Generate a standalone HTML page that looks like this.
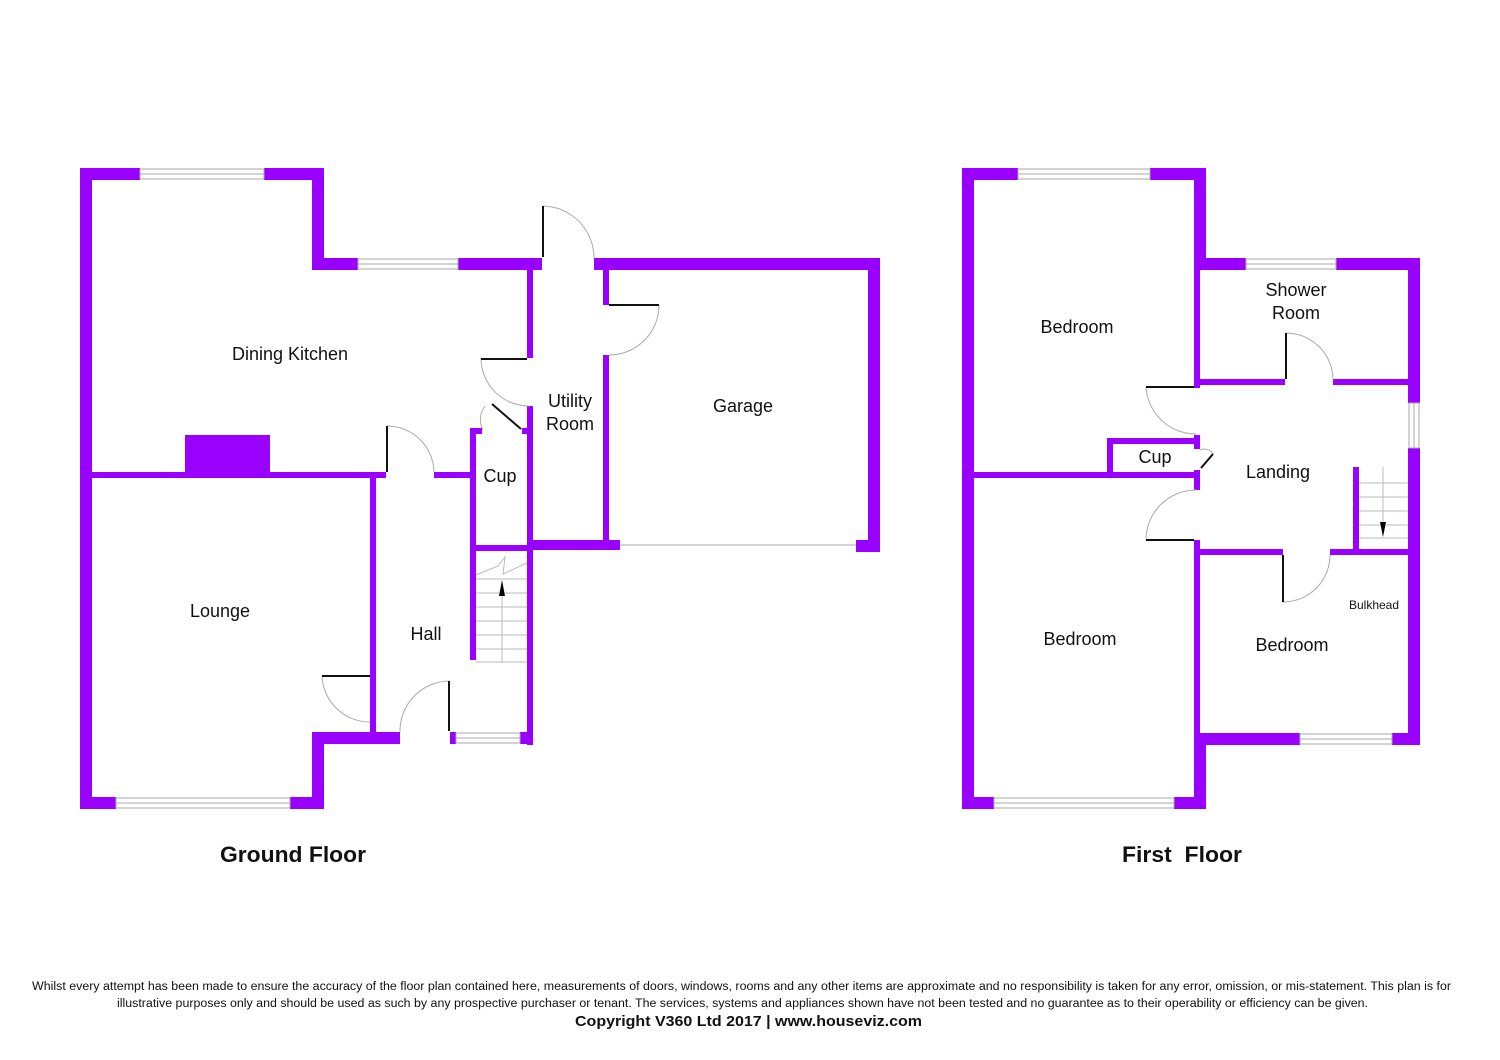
<!DOCTYPE html>
<html><head><meta charset="utf-8"><style>
html,body{margin:0;padding:0;background:#fff}
svg{display:block}
text{font-family:"Liberation Sans",sans-serif;fill:#111}
</style></head><body>
<svg width="1500" height="1060" viewBox="0 0 1500 1060" xmlns="http://www.w3.org/2000/svg">
<g fill="#9900ff">
<rect x="80" y="168" width="12" height="641"/>
<rect x="80" y="168" width="60" height="12"/>
<rect x="264" y="168" width="60" height="12"/>
<rect x="312" y="168" width="12" height="102"/>
<rect x="312" y="258" width="46" height="12"/>
<rect x="458" y="258" width="84" height="12"/>
<rect x="594" y="258" width="286" height="12"/>
<rect x="868" y="258" width="12" height="294"/>
<rect x="856" y="540" width="24" height="12"/>
<rect x="528" y="540" width="92" height="10"/>
<rect x="527" y="270" width="6" height="88"/>
<rect x="527" y="406" width="6" height="146"/>
<rect x="522" y="428" width="11" height="6"/>
<rect x="603" y="270" width="6" height="35"/>
<rect x="603" y="355" width="6" height="185"/>
<rect x="470" y="428" width="6" height="232"/>
<rect x="470" y="428" width="12" height="6"/>
<rect x="470" y="545" width="63" height="6"/>
<rect x="527" y="545" width="6" height="200"/>
<rect x="92" y="472" width="294" height="6"/>
<rect x="434" y="472" width="38" height="6"/>
<rect x="185" y="435" width="85" height="37"/>
<rect x="370" y="478" width="6" height="254"/>
<rect x="312" y="732" width="88" height="12"/>
<rect x="450" y="732" width="6" height="12"/>
<rect x="520" y="732" width="13" height="12"/>
<rect x="312" y="732" width="12" height="77"/>
<rect x="80" y="797" width="36" height="12"/>
<rect x="290" y="797" width="34" height="12"/>
<rect x="962" y="168" width="12" height="641"/>
<rect x="962" y="168" width="56" height="12"/>
<rect x="1150" y="168" width="56" height="12"/>
<rect x="1194" y="168" width="12" height="102"/>
<rect x="1194" y="258" width="52" height="12"/>
<rect x="1336" y="258" width="84" height="12"/>
<rect x="1408" y="258" width="12" height="145"/>
<rect x="1408" y="448" width="12" height="297"/>
<rect x="1194" y="270" width="6" height="118"/>
<rect x="1197" y="379" width="88" height="6"/>
<rect x="1333" y="379" width="75" height="6"/>
<rect x="974" y="472" width="223" height="6"/>
<rect x="1107" y="438" width="6" height="40"/>
<rect x="1107" y="438" width="90" height="6"/>
<rect x="1194" y="435" width="6" height="14"/>
<rect x="1194" y="470" width="6" height="20"/>
<rect x="1194" y="540" width="6" height="197"/>
<rect x="1200" y="549" width="83" height="6"/>
<rect x="1330" y="549" width="78" height="6"/>
<rect x="1353" y="467" width="6" height="82"/>
<rect x="1194" y="733" width="106" height="12"/>
<rect x="1392" y="733" width="28" height="12"/>
<rect x="1194" y="733" width="12" height="76"/>
<rect x="962" y="797" width="32" height="12"/>
<rect x="1174" y="797" width="32" height="12"/>
</g>
<g fill="none" stroke="#aaa" stroke-width="1">
<rect x="140" y="169" width="124" height="10"/><line x1="140" y1="174" x2="264" y2="174"/>
<rect x="358" y="259" width="100" height="10"/><line x1="358" y1="264" x2="458" y2="264"/>
<rect x="456" y="733" width="64" height="10"/><line x1="456" y1="738" x2="520" y2="738"/>
<rect x="116" y="798" width="174" height="10"/><line x1="116" y1="803" x2="290" y2="803"/>
<line x1="620" y1="545" x2="856" y2="545"/>
<rect x="1018" y="169" width="132" height="10"/><line x1="1018" y1="174" x2="1150" y2="174"/>
<rect x="1246" y="259" width="90" height="10"/><line x1="1246" y1="264" x2="1336" y2="264"/>
<rect x="1409" y="403" width="10" height="45"/><line x1="1414" y1="403" x2="1414" y2="448"/>
<rect x="1300" y="734" width="92" height="10"/><line x1="1300" y1="739" x2="1392" y2="739"/>
<rect x="994" y="798" width="180" height="10"/><line x1="994" y1="803" x2="1174" y2="803"/>
<path d="M543 206 A52 52 0 0 1 594 258"/>
<path d="M659 305 A50 50 0 0 1 609 355"/>
<path d="M481 358 A48 48 0 0 0 529 406"/>
<path d="M485 406 A22 22 0 0 0 483 430"/>
<path d="M387 426 A47 47 0 0 1 434 472"/>
<path d="M322 676 A48 48 0 0 0 370 722"/>
<path d="M400 732 A50 50 0 0 1 449 681"/>
<path d="M1286 333 A47 47 0 0 1 1333 380"/>
<path d="M1146 387 A50 50 0 0 0 1196 434"/>
<path d="M1200 450 A10 10 0 0 1 1213 454"/>
<path d="M1146 540 A50 50 0 0 1 1196 490"/>
<path d="M1283 602 A47 47 0 0 0 1330 555"/>
<g stroke="#bbb">
<line x1="476" y1="579" x2="527" y2="579"/><line x1="476" y1="593" x2="527" y2="593"/><line x1="476" y1="607" x2="527" y2="607"/><line x1="476" y1="621" x2="527" y2="621"/><line x1="476" y1="635" x2="527" y2="635"/><line x1="476" y1="649" x2="527" y2="649"/><line x1="476" y1="662" x2="527" y2="662"/>
<line x1="502" y1="662" x2="502" y2="590"/>
<polyline points="476,575 498,566 505,557 503,574 527,563"/>
<line x1="1359" y1="483" x2="1408" y2="483"/><line x1="1359" y1="497" x2="1408" y2="497"/><line x1="1359" y1="511" x2="1408" y2="511"/><line x1="1359" y1="525" x2="1408" y2="525"/><line x1="1359" y1="538" x2="1408" y2="538"/>
<line x1="1383" y1="467" x2="1383" y2="530"/>
</g>
</g>
<polygon points="502,580 499,596 505,596" fill="#000"/>
<polygon points="1383,537 1380,522 1386,522" fill="#000"/>
<g stroke="#111" stroke-width="2" fill="none">
<line x1="543" y1="206" x2="543" y2="257"/>
<line x1="609" y1="305" x2="659" y2="305"/>
<line x1="481" y1="359" x2="527" y2="359"/>
<line x1="492" y1="404" x2="521" y2="429"/>
<line x1="387" y1="426" x2="387" y2="472"/>
<line x1="322" y1="676" x2="370" y2="676"/>
<line x1="449" y1="681" x2="449" y2="731"/>
<line x1="1286" y1="333" x2="1286" y2="379"/>
<line x1="1146" y1="387" x2="1194" y2="387"/>
<line x1="1201" y1="468" x2="1213" y2="454"/>
<line x1="1146" y1="540" x2="1194" y2="540"/>
<line x1="1283" y1="555" x2="1283" y2="602"/>
</g>
<g font-size="18" text-anchor="middle">
<text x="290" y="360">Dining Kitchen</text>
<text x="570" y="407">Utility</text><text x="570" y="430">Room</text>
<text x="743" y="412">Garage</text>
<text x="500" y="482">Cup</text>
<text x="220" y="617">Lounge</text>
<text x="426" y="640">Hall</text>
<text x="1077" y="333">Bedroom</text>
<text x="1296" y="296">Shower</text><text x="1296" y="319">Room</text>
<text x="1155" y="463">Cup</text>
<text x="1278" y="478">Landing</text>
<text x="1080" y="645">Bedroom</text>
<text x="1292" y="651">Bedroom</text>
</g>
<text x="1374" y="609" font-size="12" text-anchor="middle">Bulkhead</text>
<g font-size="22" font-weight="bold">
<text x="220" y="862" textLength="146" lengthAdjust="spacingAndGlyphs">Ground Floor</text>
<text x="1122" y="862" textLength="120" lengthAdjust="spacingAndGlyphs" xml:space="preserve">First  Floor</text>
</g>
<g font-size="11.5" fill="#333">
<text x="32" y="990" textLength="1419" lengthAdjust="spacingAndGlyphs">Whilst every attempt has been made to ensure the accuracy of the floor plan contained here, measurements of doors, windows, rooms and any other items are approximate and no responsibility is taken for any error, omission, or mis-statement. This plan is for</text>
<text x="117" y="1007" textLength="1251" lengthAdjust="spacingAndGlyphs">illustrative purposes only and should be used as such by any prospective purchaser or tenant. The services, systems and appliances shown have not been tested and no guarantee as to their operability or efficiency can be given.</text>
</g>
<text x="575" y="1026" font-size="15" font-weight="bold" textLength="347" lengthAdjust="spacingAndGlyphs">Copyright V360 Ltd 2017 | www.houseviz.com</text>
</svg>
</body></html>
